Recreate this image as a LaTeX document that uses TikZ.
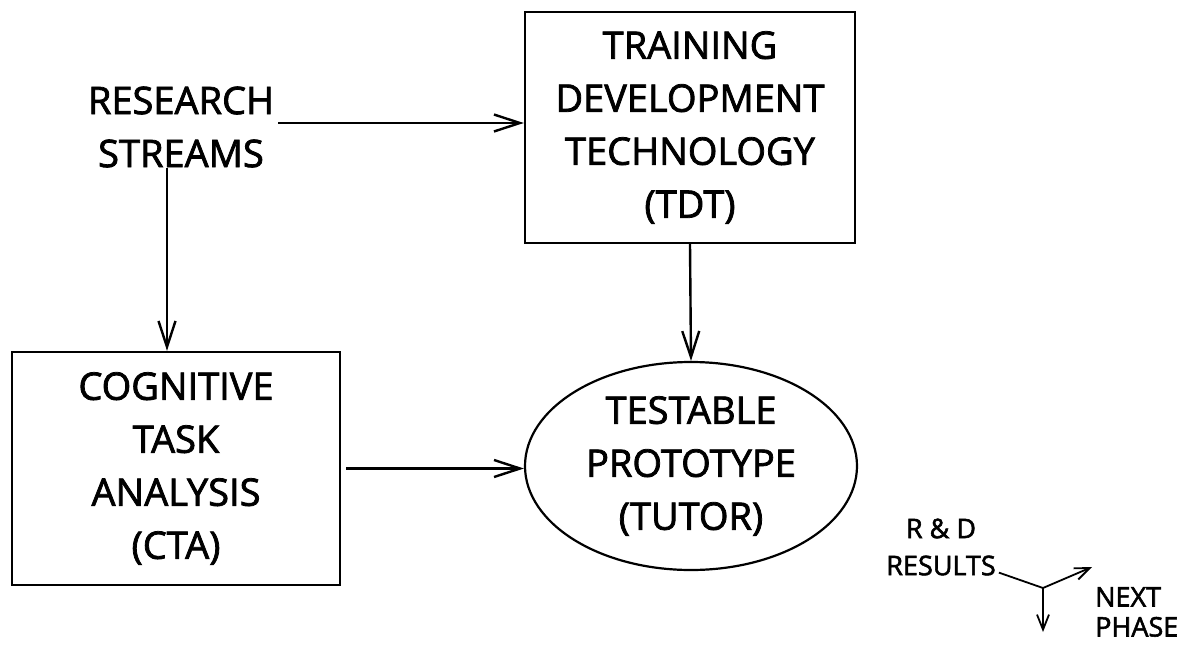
\documentclass[tikz,border=0pt]{standalone}
\usepackage{fontspec}
\setmainfont{Open Sans}[FakeBold=2]
\usetikzlibrary{arrows.meta,shapes.geometric}
\begin{document}
\begin{tikzpicture}[x=1pt,y=-1pt,
  bigtext/.style={font=\fontsize{38}{53}\selectfont, align=center, inner sep=0pt},
  smalltext/.style={font=\fontsize{27}{33}\selectfont, inner sep=0pt},
  boxnode/.style={bigtext, draw, line width=2.4pt, minimum width=328pt, minimum height=232pt},
  ellnode/.style={bigtext, draw, ellipse, line width=2.2pt, minimum width=332pt, minimum height=208pt},
  arr/.style={line width=2.4pt, -{Straight Barb[length=26pt,width=17pt,line width=2.4pt]}},
  smallarr/.style={line width=1.8pt, -{Straight Barb[length=15pt,width=12pt,line width=1.8pt]}},
  plainline/.style={line width=1.8pt}]
\useasboundingbox (0,0) rectangle (1178,648);
\fill[white] (0,0) rectangle (1178,648);

\node[bigtext] (rs) at (181,127) {RESEARCH\\STREAMS};
\node[boxnode, minimum width=330pt, minimum height=231pt] (tdt) at (690,127.5) {TRAINING\\DEVELOPMENT\\TECHNOLOGY\\(TDT)};
\node[boxnode, minimum width=328pt, minimum height=233pt] (cta) at (176,468.5) {COGNITIVE\\TASK\\ANALYSIS\\(CTA)};
\node[ellnode] (proto) at (691,466) {TESTABLE\\PROTOTYPE\\(TUTOR)};

\node[smalltext, align=center, font=\fontsize{27}{37}\selectfont] (rd) at (941,547) {R \& D\\RESULTS};
\node[smalltext, align=left, anchor=west, font=\fontsize{27}{30}\selectfont] (np) at (1095,612) {NEXT\\PHASE};

\coordinate (j) at (1043,588);
\coordinate (ne) at (1092,567);
\coordinate (dn) at (1043,632);

\draw[arr] ([xshift=-14pt]rs.south) -- ([xshift=-14pt]rs.south |- cta.north);
\draw[arr] ([xshift=4pt,yshift=4pt]rs.east) -- ([yshift=4pt]rs.east -| tdt.west);
\draw[arr] (tdt.south) -- (proto.north);
\draw[arr] ([xshift=5pt]cta.east) -- (cta.east -| proto.west);

\draw[plainline] ([shift={(3pt,3pt)}]rd.south east) -- (j);
\draw[smallarr] (j) -- (ne);
\draw[smallarr] (j) -- (dn);
\end{tikzpicture}
\end{document}
